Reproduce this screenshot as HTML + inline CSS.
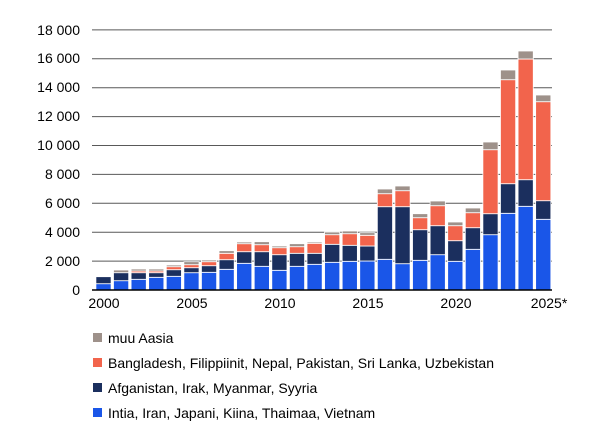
<!DOCTYPE html>
<html><head><meta charset="utf-8"><style>
body{margin:0;background:#fff;}
svg text{font-family:"Liberation Sans",Arial,sans-serif;font-size:14px;fill:#000;}
</style></head><body>
<svg id="s" width="600" height="434" xmlns="http://www.w3.org/2000/svg">
<g id="grid"></g><g id="bars"></g>
<line x1="92" y1="290" x2="552" y2="290" stroke="#000" stroke-width="1.5"/>
<g text-anchor="end">
<text x="80" y="295">0</text><text x="80" y="266">2 000</text><text x="80" y="237">4 000</text><text x="80" y="208">6 000</text><text x="80" y="179">8 000</text><text x="80" y="150">10 000</text><text x="80" y="121">12 000</text><text x="80" y="92">14 000</text><text x="80" y="63">16 000</text><text x="80" y="35">18 000</text>
</g>
<g text-anchor="middle">
<text x="104" y="308">2000</text><text x="192" y="308">2005</text><text x="280" y="308">2010</text><text x="368" y="308">2015</text><text x="456" y="308">2020</text><text x="549" y="308">2025*</text>
</g>
<rect x="93" y="333" width="9" height="9" fill="#9e918a"/><text x="108" y="343">muu Aasia</text>
<rect x="93" y="358" width="9" height="9" fill="#f2644c"/><text x="108" y="368">Bangladesh, Filippiinit, Nepal, Pakistan, Sri Lanka, Uzbekistan</text>
<rect x="93" y="383" width="9" height="9" fill="#1b2f5e"/><text x="108" y="393">Afganistan, Irak, Myanmar, Syyria</text>
<rect x="93" y="408" width="9" height="9" fill="#1a56e8"/><text x="108" y="418">Intia, Iran, Japani, Kiina, Thaimaa, Vietnam</text>
</svg>
<script>
var g=document.getElementById('grid'),b=document.getElementById('bars'),ns='http://www.w3.org/2000/svg';
for(var i=1;i<=9;i++){var y=290-i*28.9;var l=document.createElementNS(ns,'line');l.setAttribute('x1',92);l.setAttribute('x2',552);l.setAttribute('y1',y);l.setAttribute('y2',y);l.setAttribute('stroke','#595959');l.setAttribute('stroke-width','1');g.appendChild(l);}
var d=[[283.7,276.7,276.7,276.7],[280.7,272.7,272.7,270],[279.3,272.7,271,269],[277.3,272.7,271,269],[276.3,269.7,266.7,265],[272.7,267.7,264.7,261.7],[272.3,265.7,261.7,260],[269.3,259.7,253.3,250.7],[263.3,251.7,243.7,242],[266.3,251.7,244.7,241.7],[270.3,254.7,247.7,246],[266.3,253.3,246.7,243.7],[264.3,253.3,243.3,242],[262.3,244.3,234.7,232],[261.3,245.3,233.7,231],[261,246,235.3,232.7],[259.3,206.7,193.7,189],[263.7,206.7,190.7,186],[260.3,229.7,217.7,213.7],[254.7,225.7,205.7,201],[261.3,240.7,225.7,222],[249.3,227.7,212.7,208],[234.7,213.7,149.7,142],[213.3,183.7,79.7,70],[206.3,179.7,59,51],[219.3,200.7,101.7,95]];
var c=['#1a56e8','#1b2f5e','#f2644c','#9e918a'];
d.forEach(function(v,i){var x=103.5+i*17.59-7.6,prev=290;for(var k=0;k<4;k++){var h=prev-v[k];if(h>0.3){var r=document.createElementNS(ns,'rect');r.setAttribute('x',x);r.setAttribute('width',15.2);r.setAttribute('y',v[k]);r.setAttribute('height',h);r.setAttribute('fill',c[k]);r.setAttribute('stroke','#fff');r.setAttribute('stroke-width','0.8');b.appendChild(r);}prev=v[k];}});
</script>
</body></html>
